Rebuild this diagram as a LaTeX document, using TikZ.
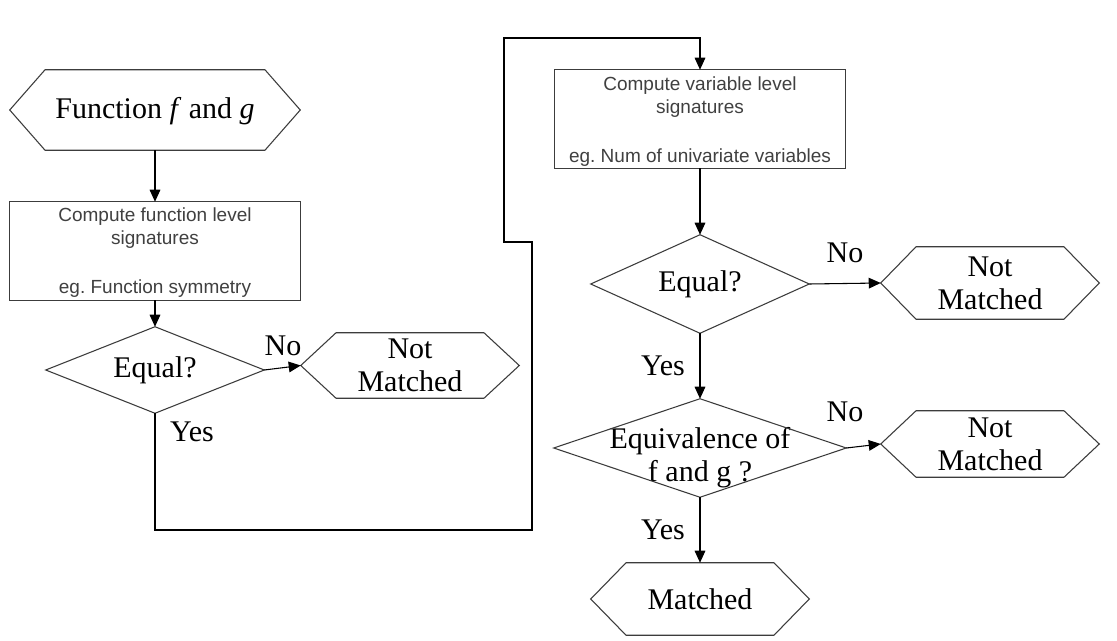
\documentclass[tikz,border=0pt]{standalone}
\usepackage{fontspec}
\setmainfont{Liberation Serif}
\newfontfamily\arialf{Liberation Sans}
\usetikzlibrary{arrows.meta}
\definecolor{shapegray}{HTML}{3C3C3C}
\definecolor{textgray}{HTML}{404040}
\frenchspacing
\begin{document}
\begin{tikzpicture}[x=0.75pt,y=-0.75pt,
  box/.style={shape=rectangle, draw=none, inner sep=0pt, align=center},
  serift/.style={font=\fontsize{22.5}{24.75}\selectfont},
  sanst/.style={font=\arialf\fontsize{14.25}{17.4}\selectfont, text=textgray},
  outline/.style={draw=shapegray, line width=0.8pt, line join=miter},
  arr/.style={draw=black, line width=0.8pt, -{Triangle[length=9pt,width=8pt]}},
  lbl/.style={serift, inner sep=0pt}]
\useasboundingbox (0,0) rectangle (1117,641);
\fill[white] (0,0) rectangle (1117,641);

% nodes
\node[box, serift, minimum width=290*0.75pt, minimum height=80*0.75pt] (fg) at (155,110) {\rule{0pt}{17pt}Function \textit{f} and \textit{g}};
\node[box, sanst, minimum width=290*0.75pt, minimum height=98*0.75pt] (r1) at (155,251) {\rule{0pt}{13pt}Compute function level\\signatures\\[19.5pt]eg. Function symmetry};
\node[box, serift, minimum width=218*0.75pt, minimum height=86*0.75pt] (d1) at (155,370) {Equal?};
\node[box, serift, minimum width=218*0.75pt, minimum height=65*0.75pt] (nm1) at (410,365.5) {Not\\Matched};

\node[box, sanst, minimum width=290*0.75pt, minimum height=98*0.75pt] (r2) at (700,119) {\rule{0pt}{14pt}Compute variable level\\signatures\\[19.5pt]eg. Num of univariate variables};
\node[box, serift, minimum width=218*0.75pt, minimum height=98*0.75pt] (d2) at (700,284) {Equal?};
\node[box, serift, minimum width=218*0.75pt, minimum height=72*0.75pt] (nm2) at (990,283) {Not\\Matched};
\node[box, serift, minimum width=292*0.75pt, minimum height=98*0.75pt] (d3) at (700,448) {\rule{0pt}{30pt}Equivalence of\\f and g ?};
\node[box, serift, minimum width=218*0.75pt, minimum height=66*0.75pt] (nm3) at (990,444) {Not\\Matched};
\node[box, serift, minimum width=218*0.75pt, minimum height=72*0.75pt] (mt) at (700,599) {Matched};

% outlines
\foreach \n in {r1,r2} \draw[outline] (\n.north west) rectangle (\n.south east);
\foreach \n in {d1,d2,d3} \draw[outline] (\n.north) -- (\n.east) -- (\n.south) -- (\n.west) -- cycle;
\foreach \n in {fg,nm1,nm2,nm3,mt}
  \draw[outline] (\n.west) -- ([xshift=26.5pt]\n.north west) -- ([xshift=-26.5pt]\n.north east)
    -- (\n.east) -- ([xshift=-26.5pt]\n.south east) -- ([xshift=26.5pt]\n.south west) -- cycle;

% corner coordinates of the loop connector
\coordinate (c1) at (155,530);
\coordinate (c2) at (532,530);
\coordinate (c3) at (532,242);
\coordinate (c4) at (504,242);
\coordinate (c5) at (504,38);
\coordinate (c6) at (700,38);

% connectors
\draw[arr] (fg.south) -- (r1.north);
\draw[arr] (r1.south) -- (d1.north);
\draw[arr] (d1.east) -- (nm1.west);
\draw[arr] (d1.south) -- (c1) -- (c2) -- (c3) -- (c4) -- (c5) -- (c6) -- (r2.north);
\draw[arr] (r2.south) -- (d2.north);
\draw[arr] (d2.east) -- (nm2.west);
\draw[arr] (d2.south) -- (d3.north);
\draw[arr] (d3.east) -- (nm3.west);
\draw[arr] (d3.south) -- (mt.north);

% labels
\node[lbl] (no1) at (283,346) {No};
\node[lbl] (yes1) at (192,432) {Yes};
\node[lbl] (no2) at (845,253) {No};
\node[lbl] (yes2) at (663,366) {Yes};
\node[lbl] (no3) at (845,412) {No};
\node[lbl] (yes3) at (663,530) {Yes};
\end{tikzpicture}
\end{document}
